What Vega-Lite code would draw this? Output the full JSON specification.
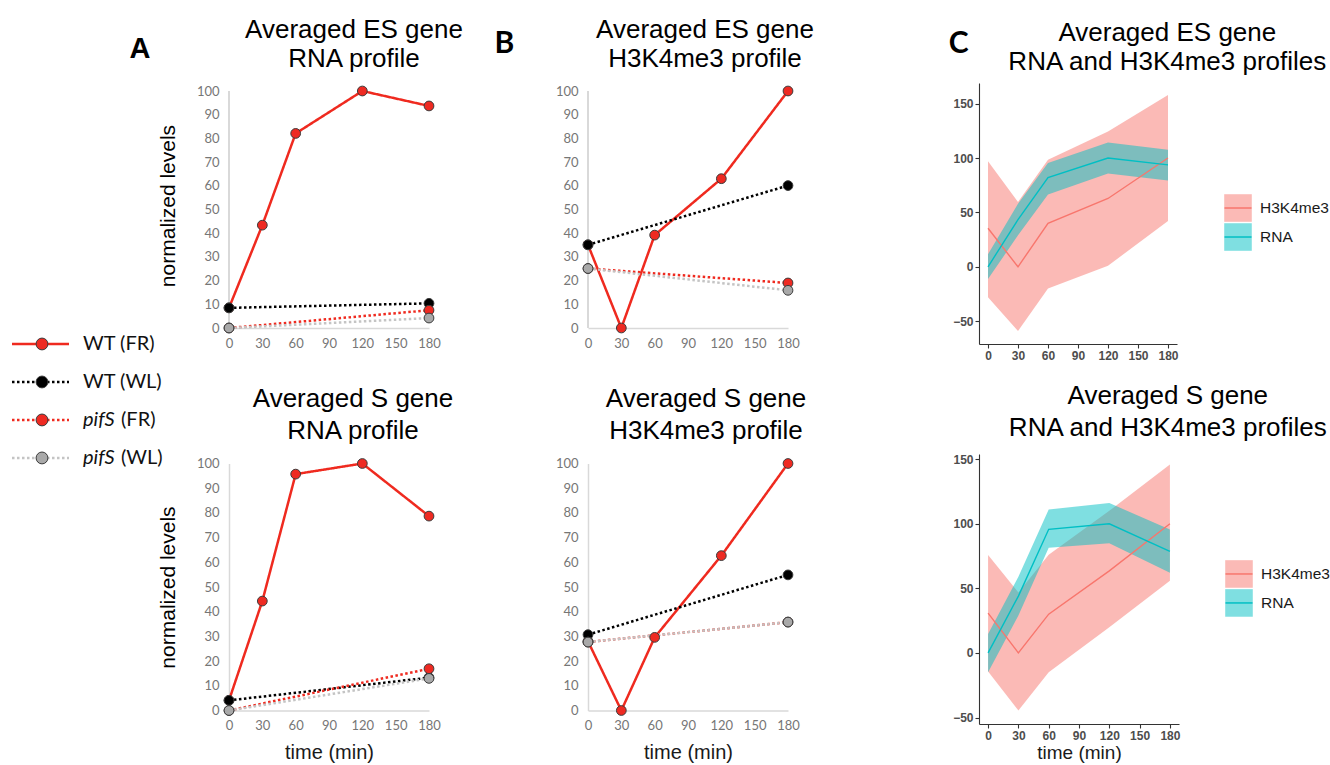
{
  "$schema": "https://vega.github.io/schema/vega-lite/v6.json",
  "background": "white",
  "padding": {"left": 5, "top": 16, "right": 0, "bottom": 0},
  "config": {"view": {"stroke": null}, "axis": {"labelFlush": false}},
  "datasets": {
    "xl": [
      {"p":"A1","s":"WT (FR)","t":0,"v":8.5},{"p":"A1","s":"WT (FR)","t":30,"v":43.4},{"p":"A1","s":"WT (FR)","t":60,"v":82.1},{"p":"A1","s":"WT (FR)","t":120,"v":100},{"p":"A1","s":"WT (FR)","t":180,"v":93.7},
      {"p":"A1","s":"WT (WL)","t":0,"v":8.5},{"p":"A1","s":"WT (WL)","t":180,"v":10.4},
      {"p":"A1","s":"pifS (FR)","t":0,"v":0},{"p":"A1","s":"pifS (FR)","t":180,"v":7.5},
      {"p":"A1","s":"pifS (WL)","t":0,"v":0},{"p":"A1","s":"pifS (WL)","t":180,"v":4.2},
      {"p":"B1","s":"WT (FR)","t":0,"v":35.1},{"p":"B1","s":"WT (FR)","t":30,"v":0},{"p":"B1","s":"WT (FR)","t":60,"v":39.2},{"p":"B1","s":"WT (FR)","t":120,"v":63},{"p":"B1","s":"WT (FR)","t":180,"v":100},
      {"p":"B1","s":"WT (WL)","t":0,"v":35.1},{"p":"B1","s":"WT (WL)","t":180,"v":60.1},
      {"p":"B1","s":"pifS (FR)","t":0,"v":25.1},{"p":"B1","s":"pifS (FR)","t":180,"v":19},
      {"p":"B1","s":"pifS (WL)","t":0,"v":25.1},{"p":"B1","s":"pifS (WL)","t":180,"v":15.9},
      {"p":"A2","s":"WT (FR)","t":0,"v":4.1},{"p":"A2","s":"WT (FR)","t":30,"v":44.3},{"p":"A2","s":"WT (FR)","t":60,"v":95.7},{"p":"A2","s":"WT (FR)","t":120,"v":100},{"p":"A2","s":"WT (FR)","t":180,"v":78.7},
      {"p":"A2","s":"WT (WL)","t":0,"v":4.1},{"p":"A2","s":"WT (WL)","t":180,"v":13.3},
      {"p":"A2","s":"pifS (FR)","t":0,"v":0},{"p":"A2","s":"pifS (FR)","t":180,"v":16.9},
      {"p":"A2","s":"pifS (WL)","t":0,"v":0},{"p":"A2","s":"pifS (WL)","t":180,"v":13},
      {"p":"B2","s":"WT (FR)","t":0,"v":28},{"p":"B2","s":"WT (FR)","t":30,"v":0},{"p":"B2","s":"WT (FR)","t":60,"v":29.6},{"p":"B2","s":"WT (FR)","t":120,"v":62.7},{"p":"B2","s":"WT (FR)","t":180,"v":100},
      {"p":"B2","s":"WT (WL)","t":0,"v":30.7},{"p":"B2","s":"WT (WL)","t":180,"v":54.9},
      {"p":"B2","s":"pifS (FR)","t":0,"v":27.7},{"p":"B2","s":"pifS (FR)","t":180,"v":35.8},
      {"p":"B2","s":"pifS (WL)","t":0,"v":27.7},{"p":"B2","s":"pifS (WL)","t":180,"v":35.8}
    ],
    "cc": [
      {"p":"C1","s":"H3K4me3","t":0,"v":35.4,"lo":-28,"hi":97},{"p":"C1","s":"H3K4me3","t":30,"v":0,"lo":-59,"hi":59.5},{"p":"C1","s":"H3K4me3","t":60,"v":39.9,"lo":-20,"hi":98.5},{"p":"C1","s":"H3K4me3","t":120,"v":62.8,"lo":1,"hi":124.4},{"p":"C1","s":"H3K4me3","t":180,"v":100,"lo":42,"hi":158},
      {"p":"C1","s":"RNA","t":0,"v":0,"lo":-11.3,"hi":11.6},{"p":"C1","s":"RNA","t":30,"v":43.4,"lo":29,"hi":58},{"p":"C1","s":"RNA","t":60,"v":82,"lo":66.5,"hi":95.4},{"p":"C1","s":"RNA","t":120,"v":100,"lo":85.7,"hi":114.3},{"p":"C1","s":"RNA","t":180,"v":93.7,"lo":79.3,"hi":107.6},
      {"p":"C2","s":"H3K4me3","t":0,"v":30.8,"lo":-14.4,"hi":75.8},{"p":"C2","s":"H3K4me3","t":30,"v":0,"lo":-44.5,"hi":46.8},{"p":"C2","s":"H3K4me3","t":60,"v":30,"lo":-15,"hi":76},{"p":"C2","s":"H3K4me3","t":120,"v":63.5,"lo":19.8,"hi":110},{"p":"C2","s":"H3K4me3","t":180,"v":100,"lo":55.8,"hi":145.8},
      {"p":"C2","s":"RNA","t":0,"v":0,"lo":-15,"hi":14.6},{"p":"C2","s":"RNA","t":30,"v":44,"lo":29,"hi":59},{"p":"C2","s":"RNA","t":60,"v":95.7,"lo":81.5,"hi":111},{"p":"C2","s":"RNA","t":120,"v":100,"lo":85,"hi":116},{"p":"C2","s":"RNA","t":180,"v":78.7,"lo":62,"hi":95.6}
    ],
    "leg": [
      {"s":"WT (FR)","g":"WT","c":"(FR)"},{"s":"WT (WL)","g":"WT","c":"(WL)"},{"s":"pifS (FR)","g":"pifS","c":"(FR)"},{"s":"pifS (WL)","g":"pifS","c":"(WL)"}
    ],
    "legC": [{"s":"H3K4me3"},{"s":"RNA"}]
  },
  "spacing": 31,
  "hconcat": [
    {
      "spacing": -36,
      "hconcat": [
        {
          "width": 160, "height": 408,
          "data": {"name": "leg"},
          "encoding": {"y": {"field": "s", "type": "nominal", "scale": {"type": "point", "domain": ["·1","·2","·3","·4","·5","·6","WT (FR)","WT (WL)","pifS (FR)","pifS (WL)"], "padding": 0.87, "align": 0.5}, "axis": null}},
          "layer": [
            {"mark": {"type": "rule", "strokeWidth": 2.5, "strokeCap": "butt"},
             "encoding": {"x": {"datum": 7, "type": "quantitative", "scale": {"domain": [0,160], "nice": false, "zero": false}, "axis": null}, "x2": {"datum": 64},
               "stroke": {"field": "s", "type": "nominal", "scale": {"domain": ["WT (FR)","WT (WL)","pifS (FR)","pifS (WL)"], "range": ["#EF2A1F","#000000","#EF2A1F","#C4C4C4"]}, "legend": null},
               "strokeDash": {"field": "s", "type": "nominal", "scale": {"domain": ["WT (FR)","WT (WL)","pifS (FR)","pifS (WL)"], "range": [[1,0],[2.5,2.5],[2.5,2.5],[2.5,2.5]]}, "legend": null}}},
            {"mark": {"type": "point", "filled": true, "size": 140, "stroke": "#3b3b3b", "strokeWidth": 1, "opacity": 1},
             "encoding": {"x": {"datum": 37, "type": "quantitative"},
               "fill": {"field": "s", "type": "nominal", "scale": {"domain": ["WT (FR)","WT (WL)","pifS (FR)","pifS (WL)"], "range": ["#EE2A22","#000000","#EE2A22","#A9A9A9"]}, "legend": null}}},
            {"transform": [{"filter": "datum.g === 'WT'"}],
             "mark": {"type": "text", "align": "left", "baseline": "middle", "font": "Lato", "fontSize": 20, "color": "#111111"},
             "encoding": {"x": {"datum": 78, "type": "quantitative"}, "text": {"field": "s"}}},
            {"transform": [{"filter": "datum.g === 'pifS'"}],
             "mark": {"type": "text", "align": "left", "baseline": "middle", "font": "Lato", "fontSize": 20, "fontStyle": "italic", "color": "#111111"},
             "encoding": {"x": {"datum": 78, "type": "quantitative"}, "text": {"field": "g"}}},
            {"transform": [{"filter": "datum.g === 'pifS'"}],
             "mark": {"type": "text", "align": "left", "baseline": "middle", "font": "Lato", "fontSize": 20, "color": "#111111"},
             "encoding": {"x": {"datum": 116, "type": "quantitative"}, "text": {"field": "c"}}}
          ]
        },
        {
          "title": {"text": "A", "anchor": "start", "frame": "bounds", "offset": -47, "dx": -28, "fontSize": 29, "fontWeight": "bold", "font": "Liberation Sans", "color": "#000000"},
          "spacing": 35.5,
          "vconcat": [
            {
              "width": 200, "height": 245,
              "title": {"text": ["Averaged ES gene", "RNA profile"], "fontSize": 26, "lineHeight": 29, "font": "Liberation Sans", "fontWeight": "normal", "color": "#000000", "anchor": "middle", "frame": "group", "dx": 25, "offset": 11.5},
              "data": {"name": "xl"},
              "transform": [{"filter": "datum.p === 'A1'"}],
              "encoding": {
                "x": {"field": "t", "type": "quantitative", "scale": {"domain": [0,180], "nice": false, "zero": false}, "axis": {"values": [0,30,60,90,120,150,180], "labelOverlap": false, "labelFlush": false, "title": null, "grid": false, "ticks": false, "domainColor": "#D9D9D9", "domainWidth": 1.5, "labelColor": "#767676", "labelFont": "Lato", "labelFontSize": 13, "labelPadding": 9}},
                "y": {"field": "v", "type": "quantitative", "scale": {"domain": [0,103.38], "nice": false}, "axis": {"values": [0,10,20,30,40,50,60,70,80,90,100], "labelOverlap": false, "labelFlush": false, "domain": false, "title": "normalized levels", "titleFont": "Liberation Sans", "titleFontSize": 21, "titleFontWeight": "normal", "titleColor": "#000000", "titlePadding": 18, "grid": false, "ticks": false, "labelColor": "#767676", "labelFont": "Lato", "labelFontSize": 13, "labelPadding": 10}}
              },
              "layer": [
                {"mark": {"type": "rule", "stroke": "#D9D9D9", "strokeWidth": 1.5}, "encoding": {"x": {"datum": 0, "type": "quantitative"}, "y": {"datum": 0, "type": "quantitative"}, "y2": {"datum": 100}}},
                {"mark": {"type": "line", "strokeWidth": 2.5, "strokeCap": "butt"},
                 "encoding": {"stroke": {"field": "s", "type": "nominal", "scale": {"domain": ["WT (FR)","WT (WL)","pifS (FR)","pifS (WL)"], "range": ["#EF2A1F","#000000","#EF2A1F","#C4C4C4"]}, "legend": null},
                   "strokeDash": {"field": "s", "type": "nominal", "scale": {"domain": ["WT (FR)","WT (WL)","pifS (FR)","pifS (WL)"], "range": [[1,0],[2.5,2.5],[2.5,2.5],[2.5,2.5]]}, "legend": null}}},
                {"mark": {"type": "point", "filled": true, "size": 95, "stroke": "#3b3b3b", "strokeWidth": 1, "opacity": 1},
                 "encoding": {"fill": {"field": "s", "type": "nominal", "scale": {"domain": ["WT (FR)","WT (WL)","pifS (FR)","pifS (WL)"], "range": ["#EE2A22","#000000","#EE2A22","#A9A9A9"]}, "legend": null}}}
              ]
            },
            {
              "width": 200, "height": 247,
              "title": {"text": ["Averaged S gene", "RNA profile"], "fontSize": 26, "lineHeight": 32, "font": "Liberation Sans", "fontWeight": "normal", "color": "#000000", "anchor": "middle", "frame": "group", "dx": 24, "offset": 13},
              "data": {"name": "xl"},
              "transform": [{"filter": "datum.p === 'A2'"}],
              "encoding": {
                "x": {"field": "t", "type": "quantitative", "scale": {"domain": [0,180], "nice": false, "zero": false}, "axis": {"values": [0,30,60,90,120,150,180], "labelOverlap": false, "labelFlush": false, "title": "time (min)", "titleFont": "Liberation Sans", "titleFontSize": 20, "titleFontWeight": "normal", "titleColor": "#1a1a1a", "titlePadding": 10, "grid": false, "ticks": false, "domainColor": "#D9D9D9", "domainWidth": 1.5, "labelColor": "#767676", "labelFont": "Lato", "labelFontSize": 13, "labelPadding": 9}},
                "y": {"field": "v", "type": "quantitative", "scale": {"domain": [0,100], "nice": false}, "axis": {"values": [0,10,20,30,40,50,60,70,80,90,100], "labelOverlap": false, "labelFlush": false, "title": "normalized levels", "titleFont": "Liberation Sans", "titleFontSize": 21, "titleFontWeight": "normal", "titleColor": "#000000", "titlePadding": 18, "grid": false, "ticks": false, "domainColor": "#D9D9D9", "domainWidth": 1.5, "labelColor": "#767676", "labelFont": "Lato", "labelFontSize": 13, "labelPadding": 10}}
              },
              "layer": [
                {"mark": {"type": "line", "strokeWidth": 2.5, "strokeCap": "butt"},
                 "encoding": {"stroke": {"field": "s", "type": "nominal", "scale": {"domain": ["WT (FR)","WT (WL)","pifS (FR)","pifS (WL)"], "range": ["#EF2A1F","#000000","#EF2A1F","#C4C4C4"]}, "legend": null},
                   "strokeDash": {"field": "s", "type": "nominal", "scale": {"domain": ["WT (FR)","WT (WL)","pifS (FR)","pifS (WL)"], "range": [[1,0],[2.5,2.5],[2.5,2.5],[2.5,2.5]]}, "legend": null}}},
                {"mark": {"type": "point", "filled": true, "size": 95, "stroke": "#3b3b3b", "strokeWidth": 1, "opacity": 1},
                 "encoding": {"fill": {"field": "s", "type": "nominal", "scale": {"domain": ["WT (FR)","WT (WL)","pifS (FR)","pifS (WL)"], "range": ["#EE2A22","#000000","#EE2A22","#A9A9A9"]}, "legend": null}}}
              ]
            }
          ]
        }
      ]
    },
    {
      "spacing": 134,
      "hconcat": [
        {
          "title": {"text": "B", "anchor": "start", "frame": "bounds", "offset": -42.5, "dx": -61, "fontSize": 30, "fontWeight": "bold", "font": "Lato", "color": "#000000"},
          "spacing": 35.5,
          "vconcat": [
            {
              "width": 200, "height": 245,
              "title": {"text": ["Averaged ES gene", "H3K4me3 profile"], "fontSize": 26, "lineHeight": 29, "font": "Liberation Sans", "fontWeight": "normal", "color": "#000000", "anchor": "middle", "frame": "group", "dx": 17, "offset": 11.5},
              "data": {"name": "xl"},
              "transform": [{"filter": "datum.p === 'B1'"}],
              "encoding": {
                "x": {"field": "t", "type": "quantitative", "scale": {"domain": [0,180], "nice": false, "zero": false}, "axis": {"values": [0,30,60,90,120,150,180], "labelOverlap": false, "labelFlush": false, "title": null, "grid": false, "ticks": false, "domainColor": "#D9D9D9", "domainWidth": 1.5, "labelColor": "#767676", "labelFont": "Lato", "labelFontSize": 13, "labelPadding": 9}},
                "y": {"field": "v", "type": "quantitative", "scale": {"domain": [0,103.38], "nice": false}, "axis": {"values": [0,10,20,30,40,50,60,70,80,90,100], "labelOverlap": false, "labelFlush": false, "domain": false, "title": null, "grid": false, "ticks": false, "labelColor": "#767676", "labelFont": "Lato", "labelFontSize": 13, "labelPadding": 10}}
              },
              "layer": [
                {"mark": {"type": "rule", "stroke": "#D9D9D9", "strokeWidth": 1.5}, "encoding": {"x": {"datum": 0, "type": "quantitative"}, "y": {"datum": 0, "type": "quantitative"}, "y2": {"datum": 100}}},
                {"mark": {"type": "line", "strokeWidth": 2.5, "strokeCap": "butt"},
                 "encoding": {"stroke": {"field": "s", "type": "nominal", "scale": {"domain": ["WT (FR)","WT (WL)","pifS (FR)","pifS (WL)"], "range": ["#EF2A1F","#000000","#EF2A1F","#C4C4C4"]}, "legend": null},
                   "strokeDash": {"field": "s", "type": "nominal", "scale": {"domain": ["WT (FR)","WT (WL)","pifS (FR)","pifS (WL)"], "range": [[1,0],[2.5,2.5],[2.5,2.5],[2.5,2.5]]}, "legend": null}}},
                {"mark": {"type": "point", "filled": true, "size": 95, "stroke": "#3b3b3b", "strokeWidth": 1, "opacity": 1},
                 "encoding": {"fill": {"field": "s", "type": "nominal", "scale": {"domain": ["WT (FR)","WT (WL)","pifS (FR)","pifS (WL)"], "range": ["#EE2A22","#000000","#EE2A22","#A9A9A9"]}, "legend": null}}}
              ]
            },
            {
              "width": 200, "height": 247,
              "title": {"text": ["Averaged S gene", "H3K4me3 profile"], "fontSize": 26, "lineHeight": 32, "font": "Liberation Sans", "fontWeight": "normal", "color": "#000000", "anchor": "middle", "frame": "group", "dx": 18, "offset": 13},
              "data": {"name": "xl"},
              "transform": [{"filter": "datum.p === 'B2'"}],
              "encoding": {
                "x": {"field": "t", "type": "quantitative", "scale": {"domain": [0,180], "nice": false, "zero": false}, "axis": {"values": [0,30,60,90,120,150,180], "labelOverlap": false, "labelFlush": false, "title": "time (min)", "titleFont": "Liberation Sans", "titleFontSize": 20, "titleFontWeight": "normal", "titleColor": "#1a1a1a", "titlePadding": 10, "grid": false, "ticks": false, "domainColor": "#D9D9D9", "domainWidth": 1.5, "labelColor": "#767676", "labelFont": "Lato", "labelFontSize": 13, "labelPadding": 9}},
                "y": {"field": "v", "type": "quantitative", "scale": {"domain": [0,100], "nice": false}, "axis": {"values": [0,10,20,30,40,50,60,70,80,90,100], "labelOverlap": false, "labelFlush": false, "title": null, "grid": false, "ticks": false, "domainColor": "#D9D9D9", "domainWidth": 1.5, "labelColor": "#767676", "labelFont": "Lato", "labelFontSize": 13, "labelPadding": 10}}
              },
              "layer": [
                {"mark": {"type": "line", "strokeWidth": 2.5, "strokeCap": "butt"},
                 "encoding": {"stroke": {"field": "s", "type": "nominal", "scale": {"domain": ["WT (FR)","WT (WL)","pifS (FR)","pifS (WL)"], "range": ["#EF2A1F","#000000","#EF2A1F","#C4C4C4"]}, "legend": null},
                   "strokeDash": {"field": "s", "type": "nominal", "scale": {"domain": ["WT (FR)","WT (WL)","pifS (FR)","pifS (WL)"], "range": [[1,0],[2.5,2.5],[2.5,2.5],[2.5,2.5]]}, "legend": null}}},
                {"mark": {"type": "point", "filled": true, "size": 95, "stroke": "#3b3b3b", "strokeWidth": 1, "opacity": 1},
                 "encoding": {"fill": {"field": "s", "type": "nominal", "scale": {"domain": ["WT (FR)","WT (WL)","pifS (FR)","pifS (WL)"], "range": ["#EE2A22","#000000","#EE2A22","#A9A9A9"]}, "legend": null}}}
              ]
            }
          ]
        },
        {
          "title": {"text": "C", "anchor": "start", "frame": "bounds", "offset": -39.5, "dx": -4, "fontSize": 30, "fontWeight": "bold", "font": "Lato", "color": "#000000"},
          "spacing": 21,
          "vconcat": [
            {
              "title": {"text": ["Averaged ES gene", "RNA and H3K4me3 profiles"], "fontSize": 26, "lineHeight": 29, "font": "Liberation Sans", "fontWeight": "normal", "color": "#000000", "anchor": "middle", "frame": "bounds", "dx": 24, "offset": 8.5},
              "spacing": 44,
              "hconcat": [
                {
                  "width": 198, "height": 261,
                  "data": {"name": "cc"},
                  "transform": [{"filter": "datum.p === 'C1'"}],
                  "encoding": {"x": {"field": "t", "type": "quantitative", "scale": {"domain": [-9,189], "nice": false, "zero": false}, "axis": {"values": [0,30,60,90,120,150,180], "labelOverlap": false, "title": null, "grid": false, "domainColor": "#333333", "domainWidth": 1.1, "tickColor": "#333333", "tickSize": 4, "tickWidth": 1.1, "labelColor": "#4D4D4D", "labelFont": "Liberation Sans", "labelFontWeight": "bold", "labelFontSize": 12, "labelPadding": 2}}},
                  "layer": [
                    {"mark": {"type": "area", "opacity": 0.5},
                     "encoding": {"y": {"field": "lo", "type": "quantitative", "stack": null, "scale": {"domain": [-71,169], "nice": false, "zero": false}, "axis": {"values": [-50,0,50,100,150], "labelOverlap": false, "title": null, "grid": false, "domainColor": "#333333", "domainWidth": 1.1, "tickColor": "#333333", "tickSize": 4, "tickWidth": 1.1, "labelColor": "#4D4D4D", "labelFont": "Liberation Sans", "labelFontWeight": "bold", "labelFontSize": 12, "labelPadding": 2}}, "y2": {"field": "hi"},
                       "color": {"field": "s", "type": "nominal", "scale": {"domain": ["H3K4me3","RNA"], "range": ["#F8766D","#00BFC4"]}, "legend": null}}},
                    {"mark": {"type": "line", "strokeWidth": 1.4},
                     "encoding": {"y": {"field": "v", "type": "quantitative", "axis": {"values": [-50,0,50,100,150], "labelOverlap": false, "title": null, "grid": false, "domainColor": "#333333", "domainWidth": 1.1, "tickColor": "#333333", "tickSize": 4, "tickWidth": 1.1, "labelColor": "#4D4D4D", "labelFont": "Liberation Sans", "labelFontWeight": "bold", "labelFontSize": 12, "labelPadding": 2}},
                       "color": {"field": "s", "type": "nominal", "scale": {"domain": ["H3K4me3","RNA"], "range": ["#F8766D","#00BFC4"]}, "legend": null}}}
                  ]
                },
                {
                  "width": 110, "height": 163,
                  "data": {"name": "legC"},
                  "encoding": {"y": {"field": "s", "type": "nominal", "scale": {"type": "point", "domain": ["·1","·2","·3","·4","H3K4me3","RNA"], "padding": 0.31, "align": 0.5}, "axis": null}},
                  "layer": [
                    {"mark": {"type": "point", "shape": "square", "filled": true, "size": 760, "opacity": 0.5, "strokeWidth": 0},
                     "encoding": {"x": {"datum": 14, "type": "quantitative", "scale": {"domain": [0,110], "nice": false, "zero": false}, "axis": null},
                       "color": {"field": "s", "type": "nominal", "scale": {"domain": ["H3K4me3","RNA"], "range": ["#F8766D","#00BFC4"]}, "legend": null}}},
                    {"mark": {"type": "rule", "strokeWidth": 1.5},
                     "encoding": {"x": {"datum": 0.5, "type": "quantitative"}, "x2": {"datum": 27.5},
                       "color": {"field": "s", "type": "nominal", "scale": {"domain": ["H3K4me3","RNA"], "range": ["#F8766D","#00BFC4"]}, "legend": null}}},
                    {"mark": {"type": "text", "align": "left", "baseline": "middle", "font": "Liberation Sans", "fontSize": 15.5, "color": "#1a1a1a"},
                     "encoding": {"x": {"datum": 36, "type": "quantitative"}, "text": {"field": "s"}}}
                  ]
                }
              ]
            },
            {
              "title": {"text": ["Averaged S gene", "RNA and H3K4me3 profiles"], "fontSize": 26, "lineHeight": 32, "font": "Liberation Sans", "fontWeight": "normal", "color": "#000000", "anchor": "middle", "frame": "bounds", "dx": 24, "offset": 12.5},
              "spacing": 44,
              "hconcat": [
                {
                  "width": 200, "height": 270,
                  "data": {"name": "cc"},
                  "transform": [{"filter": "datum.p === 'C2'"}],
                  "encoding": {"x": {"field": "t", "type": "quantitative", "scale": {"domain": [-9,189], "nice": false, "zero": false}, "axis": {"values": [0,30,60,90,120,150,180], "labelOverlap": false, "title": "time (min)", "titleFont": "Liberation Sans", "titleFontSize": 19, "titleFontWeight": "normal", "titleColor": "#1a1a1a", "titlePadding": 2, "grid": false, "domainColor": "#333333", "domainWidth": 1.1, "tickColor": "#333333", "tickSize": 4, "tickWidth": 1.1, "labelColor": "#4D4D4D", "labelFont": "Liberation Sans", "labelFontWeight": "bold", "labelFontSize": 12, "labelPadding": 2}}},
                  "layer": [
                    {"mark": {"type": "area", "opacity": 0.5},
                     "encoding": {"y": {"field": "lo", "type": "quantitative", "stack": null, "scale": {"domain": [-55,154], "nice": false, "zero": false}, "axis": {"values": [-50,0,50,100,150], "labelOverlap": false, "title": null, "grid": false, "domainColor": "#333333", "domainWidth": 1.1, "tickColor": "#333333", "tickSize": 4, "tickWidth": 1.1, "labelColor": "#4D4D4D", "labelFont": "Liberation Sans", "labelFontWeight": "bold", "labelFontSize": 12, "labelPadding": 2}}, "y2": {"field": "hi"},
                       "color": {"field": "s", "type": "nominal", "scale": {"domain": ["H3K4me3","RNA"], "range": ["#F8766D","#00BFC4"]}, "legend": null}}},
                    {"mark": {"type": "line", "strokeWidth": 1.4},
                     "encoding": {"y": {"field": "v", "type": "quantitative", "axis": {"values": [-50,0,50,100,150], "labelOverlap": false, "title": null, "grid": false, "domainColor": "#333333", "domainWidth": 1.1, "tickColor": "#333333", "tickSize": 4, "tickWidth": 1.1, "labelColor": "#4D4D4D", "labelFont": "Liberation Sans", "labelFontWeight": "bold", "labelFontSize": 12, "labelPadding": 2}},
                       "color": {"field": "s", "type": "nominal", "scale": {"domain": ["H3K4me3","RNA"], "range": ["#F8766D","#00BFC4"]}, "legend": null}}}
                  ]
                },
                {
                  "width": 110, "height": 153,
                  "data": {"name": "legC"},
                  "encoding": {"y": {"field": "s", "type": "nominal", "scale": {"type": "point", "domain": ["·1","·2","·3","·4","H3K4me3","RNA"], "padding": 0.14, "align": 0.5}, "axis": null}},
                  "layer": [
                    {"mark": {"type": "point", "shape": "square", "filled": true, "size": 760, "opacity": 0.5, "strokeWidth": 0},
                     "encoding": {"x": {"datum": 14, "type": "quantitative", "scale": {"domain": [0,110], "nice": false, "zero": false}, "axis": null},
                       "color": {"field": "s", "type": "nominal", "scale": {"domain": ["H3K4me3","RNA"], "range": ["#F8766D","#00BFC4"]}, "legend": null}}},
                    {"mark": {"type": "rule", "strokeWidth": 1.5},
                     "encoding": {"x": {"datum": 0.5, "type": "quantitative"}, "x2": {"datum": 27.5},
                       "color": {"field": "s", "type": "nominal", "scale": {"domain": ["H3K4me3","RNA"], "range": ["#F8766D","#00BFC4"]}, "legend": null}}},
                    {"mark": {"type": "text", "align": "left", "baseline": "middle", "font": "Liberation Sans", "fontSize": 15.5, "color": "#1a1a1a"},
                     "encoding": {"x": {"datum": 36, "type": "quantitative"}, "text": {"field": "s"}}}
                  ]
                }
              ]
            }
          ]
        }
      ]
    }
  ]
}
